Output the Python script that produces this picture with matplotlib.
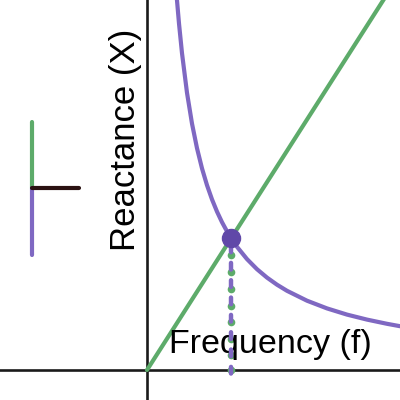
import numpy as np
import matplotlib.pyplot as plt

plt.rcParams['font.family'] = ['Liberation Sans', 'DejaVu Sans']

# inductive reactance (straight line) - two points
xl_f = [0.0, 25.3]
xl_x = [0.0, 39.6]

# capacitive reactance (curve)
xc_f = [2.8, 3.0, 3.2, 3.5, 4.0, 4.5, 5.0, 5.5, 6.0, 6.5, 7.0, 7.5, 8.0, 8.4,
        9.0, 10.0, 11.0, 12.0, 13.0, 14.0, 16.0, 18.0, 20.0, 22.0, 24.0, 25.3]
xc_x = [39.6, 36.96, 34.65, 31.68, 27.72, 24.64, 22.18, 20.16, 18.48, 17.06,
        15.84, 14.78, 13.86, 13.2, 12.32, 11.09, 10.08, 9.24, 8.53, 7.92,
        6.93, 6.16, 5.54, 5.04, 4.62, 4.38]

# resonance point
f0 = 8.4
x0 = 13.2

# green dots of the drop line
drop_dots = [11.5, 9.8, 8.1, 6.4, 4.8, 3.1, 1.5, 0.0]

green = '#5dab6a'
purple = '#7f68c2'
dot = '#6048a8'

fig = plt.figure(figsize=(4, 4), dpi=100)
ax = fig.add_axes([0, 0, 1, 1])
ax.set_xlim(-14.7, 25.3)
ax.set_ylim(-3.0, 37.0)
ax.axis('off')

# axes
ax.axhline(0, color='#1a1a1a', lw=1.9, zorder=1)
ax.axvline(0, color='#1a1a1a', lw=1.9, zorder=1)

ax.plot(xl_f, xl_x, color=green, lw=3, solid_capstyle='round', zorder=2)
ax.plot(xc_f, xc_x, color=purple, lw=3, solid_capstyle='round', zorder=2)

# dashed drop line from resonance
ax.plot([f0] * len(drop_dots), drop_dots, 'o', color=green, ms=5.5,
        mew=0, zorder=3)
ax.plot([f0, f0], [x0, -0.5], color=purple, lw=3.2, ls=(2.2, (1.5, 2.4)),
        dash_capstyle='round', zorder=4)

ax.plot([f0], [x0], 'o', color=dot, ms=13, zorder=5)

# little legend glyph on the left
ax.plot([-11.5, -11.5], [24.8, 18.2], color=green, lw=3, solid_capstyle='round')
ax.plot([-11.5, -11.5], [18.2, 11.5], color=purple, lw=3, solid_capstyle='round')
ax.plot([-11.5, -6.8], [18.2, 18.2], color='#2b1212', lw=3, solid_capstyle='round')

ax.text(-2.2, 23.0, 'Reactance (X)', rotation=90, fontsize=25,
        ha='center', va='center', color='black')
ax.text(12.3, 2.6, 'Frequency (f)', fontsize=24.5, ha='center', va='center',
        color='black')

fig.savefig('out.png', dpi=100)
